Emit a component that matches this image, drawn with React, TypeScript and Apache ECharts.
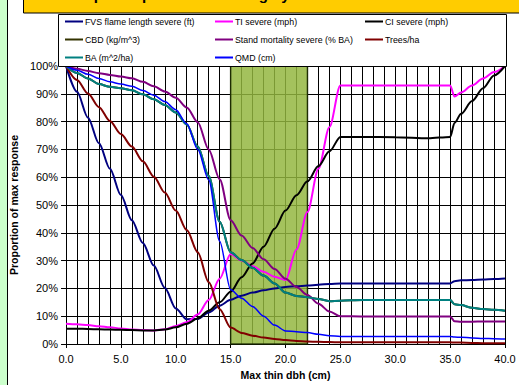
import React, { useEffect, useRef } from "react";
import * as echarts from "echarts";

const xs = [0, 1, 2, 3, 4, 5, 6, 7, 8, 9, 10, 11, 12, 13, 14, 15, 16, 17, 18, 19, 20, 21, 22, 23, 24, 25, 27, 30, 33, 35, 35.4, 36, 37, 38, 39, 40];

const fvsFlame = [100, 90.7, 81.4, 72.2, 63, 53.6, 44.5, 36.3, 28.2, 20.2, 12.8, 8.9, 9, 11.3, 13.8, 15.9, 17.4, 18.5, 19.3, 20, 20.5, 20.8, 21, 21.3, 21.6, 21.8, 21.8, 21.8, 21.8, 21.8, 22.6, 22.9, 23, 23.2, 23.4, 23.6];
const tiSevere = [7.3, 7.1, 6.8, 6.4, 6, 5.6, 5.2, 5, 4.9, 5.3, 6.5, 7.8, 10.6, 15.8, 23.5, 32.4, 30, 28, 26, 24.2, 23, 34, 47.5, 63, 78, 93, 93, 93, 93, 93, 89, 90.5, 93, 95.5, 97.8, 100];
const ciSevere = [5.5, 5.5, 5.4, 5.3, 5.2, 5.1, 5, 4.9, 4.9, 5.2, 6, 7.3, 9.2, 12, 15, 18.8, 24, 29, 35, 41.5, 48, 53.5, 58.5, 64, 69.3, 74.5, 74.5, 74.4, 74, 74.5, 79.5, 82.8, 87.4, 92, 96.6, 100];
const cbd = [100, 97.5, 95.5, 93.5, 92.5, 92, 91.3, 89.8, 88, 86, 83.3, 79, 71, 60.4, 44, 33, 30.2, 27.4, 24.6, 21.8, 18.5, 17.3, 16.8, 16.2, 15.4, 15.6, 15.8, 15.8, 15.8, 15.8, 14.3, 14, 13, 12.6, 12.3, 12];
const mortality = [100, 99, 98.2, 97.4, 96.8, 96.2, 95.6, 94.3, 92.7, 90.8, 88.6, 85.1, 79.8, 70, 59.3, 44.5, 39, 34.5, 30.5, 27, 23.5, 20.5, 17.6, 14.5, 11.7, 10, 9.9, 9.9, 9.9, 9.9, 8.2, 8, 8, 8.1, 8.1, 8.1];
const treesHa = [100, 95, 90.1, 85.2, 80.2, 75.5, 71, 65.7, 60.2, 54.5, 48, 41, 33, 22.3, 12.5, 5.9, 4, 3, 2.3, 1.8, 1.4, 1.1, 0.9, 0.8, 0.7, 0.6, 0.6, 0.6, 0.6, 0.6, 0.5, 0.5, 0.4, 0.3, 0.3, 0.3];
const basalArea = [100, 97.5, 95.5, 93.5, 92.5, 92, 91.3, 89.8, 88, 86, 83.3, 79, 71, 60.4, 44, 33, 30.2, 27.4, 24.6, 21.8, 18.5, 17.3, 16.8, 16.2, 15.4, 15.6, 15.8, 15.8, 15.8, 15.8, 14.3, 14, 13, 12.6, 12.3, 12];
const qmd = [100, 98.5, 97, 95.5, 94.3, 93.5, 92.7, 91.2, 89.5, 87.2, 84.3, 79.2, 70, 59, 37, 19.5, 16.5, 13.5, 10, 6.8, 4.7, 4.4, 4.1, 3.5, 3, 2.7, 2.7, 2.7, 2.7, 2.7, 2.5, 2.4, 2.2, 2, 1.9, 1.8];

const seriesNames = [
  "FVS flame length severe (ft)",
  "TI severe (mph)",
  "CI severe (mph)",
  "CBD (kg/m^3)",
  "Stand mortality severe (% BA)",
  "Trees/ha",
  "BA (m^2/ha)",
  "QMD (cm)",
];
const seriesColors = ["#000080", "#ff00ff", "#000000", "#333300", "#800080", "#800000", "#008080", "#0000ff"];
const seriesValues = [fvsFlame, tiSevere, ciSevere, cbd, mortality, treesHa, basalArea, qmd];
const seriesWidths = [2, 2, 2, 2, 2, 2, 2, 1.5];

const xTicks = { min: 0, max: 40, step: 5 };
const thinZone = [15, 22];

const FONT = "Liberation Sans, Arial, sans-serif";

export default function App() {
  const ref = useRef<HTMLDivElement>(null);
  useEffect(() => {
    document.body.style.margin = "0";
    const chart = echarts.init(ref.current!, null, { renderer: "svg" });

    const lineSeries = seriesNames.map((name, i) => ({
      name,
      type: "line",
      data: xs.map((x, j) => [x, seriesValues[i][j]]),
      smooth: 0.3,
      smoothMonotone: "x",
      symbol: "none",
      showSymbol: false,
      z: 2,
      lineStyle: { color: seriesColors[i], width: seriesWidths[i] },
      itemStyle: { color: seriesColors[i] },
    }));

    const legendCommon = {
      orient: "vertical",
      itemWidth: 18,
      itemHeight: 2,
      icon: "rect",
      itemGap: 6,
      padding: 0,
      selectedMode: false,
      z: 30,
      textStyle: { fontSize: 8.8, fontFamily: FONT, color: "#000", lineHeight: 12, padding: [0, 0, 0, -3] },
    };

    chart.setOption({
      animation: false,
      backgroundColor: "#fff",
      grid: { left: 58, right: 14, top: 66, bottom: 35, containLabel: false },
      legend: [
        { ...legendCommon, left: 65, top: 15.5, data: [seriesNames[0], seriesNames[3], seriesNames[6]] },
        { ...legendCommon, left: 215, top: 15.5, data: [seriesNames[1], seriesNames[4], seriesNames[7]] },
        { ...legendCommon, left: 365, top: 15.5, data: [seriesNames[2], seriesNames[5]] },
      ],
      xAxis: {
        type: "value",
        min: xTicks.min,
        max: xTicks.max,
        interval: xTicks.step,
        name: "Max thin dbh (cm)",
        nameLocation: "middle",
        nameGap: 25,
        nameTextStyle: { fontSize: 10.5, fontWeight: "bold", fontFamily: FONT, color: "#000" },
        axisLine: { show: true, lineStyle: { color: "#000", width: 1 } },
        axisTick: { show: true, length: 4, lineStyle: { color: "#000" } },
        axisLabel: { formatter: (v: number) => v.toFixed(1), fontSize: 11, fontFamily: FONT, color: "#000", margin: 9 },
        splitLine: { show: true, lineStyle: { color: "#000", width: 1 } },
        minorTick: { show: false, splitNumber: 5 },
        minorSplitLine: { show: true, lineStyle: { color: "#000", width: 1 } },
      },
      yAxis: {
        type: "value",
        min: 0,
        max: 100,
        interval: 10,
        name: "Proportion of max response",
        nameLocation: "middle",
        nameGap: 37,
        nameTextStyle: { fontSize: 10.5, fontWeight: "bold", fontFamily: FONT, color: "#000" },
        axisLine: { show: true, lineStyle: { color: "#000", width: 1 } },
        axisTick: { show: true, length: 5, lineStyle: { color: "#000" } },
        axisLabel: { formatter: (v: number) => v + "%", fontSize: 11, fontFamily: FONT, color: "#000", margin: 8 },
        splitLine: { show: true, lineStyle: { color: "#000", width: 1 } },
      },
      series: [
        ...lineSeries,
        {
          name: "thin zone",
          type: "line",
          data: [],
          z: 5,
          silent: true,
          markArea: {
            silent: true,
            itemStyle: {
              color: "#93b63e",
              opacity: 0.84,
              borderColor: "#1a2a00",
              borderWidth: 1.5,
            },
            data: [[{ xAxis: thinZone[0], yAxis: 0 }, { xAxis: thinZone[1], yAxis: 100 }]],
          },
        },
      ],
      graphic: [
        { type: "rect", z: 1, shape: { x: 0, y: 0, width: 7, height: 385 }, style: { fill: "#ccffcc" } },
        { type: "line", z: 1, shape: { x1: 7.5, y1: 0, x2: 7.5, y2: 385 }, style: { stroke: "#000", lineWidth: 1 } },
        { type: "rect", z: 1, shape: { x: 23.5, y: -5, width: 510, height: 18 }, style: { fill: "#ffcc00", stroke: "#000", lineWidth: 1 } },
        {
          type: "text",
          z: 2,
          x: 62,
          y: -13,
          style: { text: "Sample response to thinning by max dbh", fontSize: 15, fontWeight: "bold", fontFamily: FONT, fill: "#000" },
        },
        { type: "rect", z: 20, shape: { x: 58.5, y: 14.5, width: 448, height: 52 }, style: { fill: "#fff", stroke: "#000", lineWidth: 1 } },
      ],
    });
    return () => chart.dispose();
  }, []);
  return <div ref={ref} style={{ position: "fixed", left: 0, top: 0, width: 519, height: 385, background: "#fff" }} />;
}
